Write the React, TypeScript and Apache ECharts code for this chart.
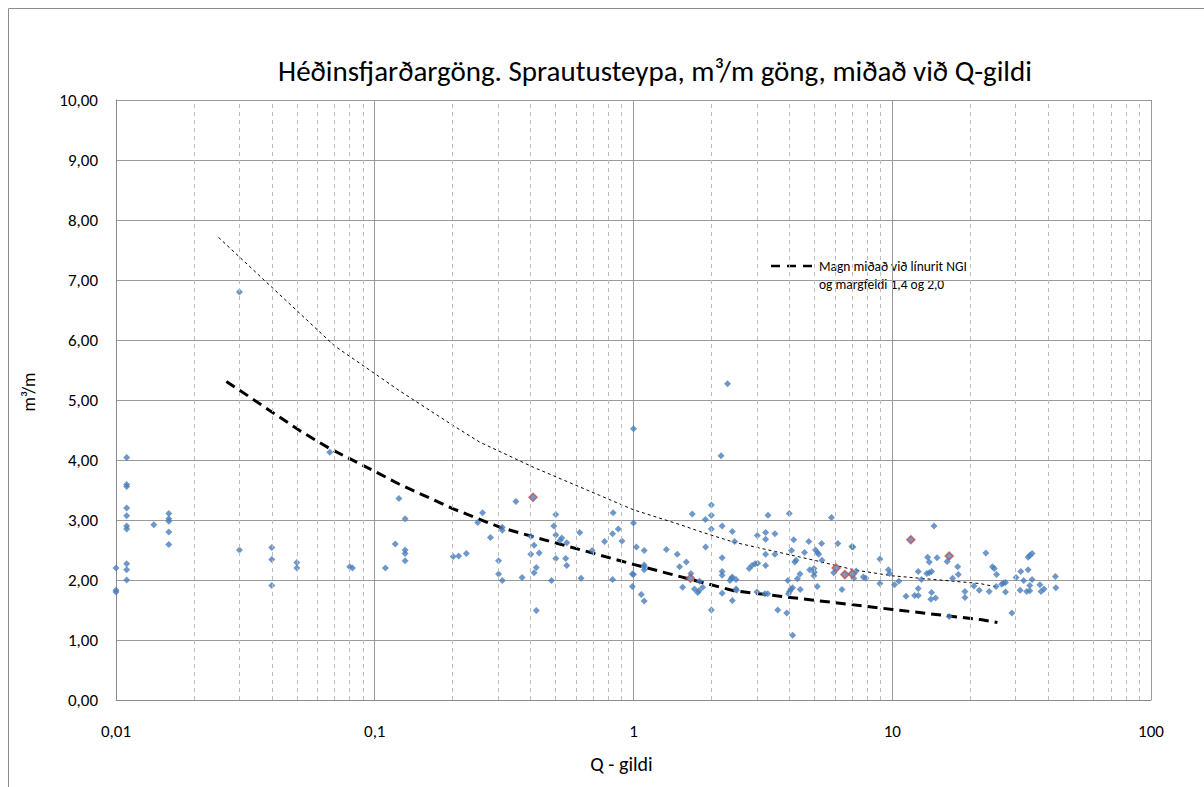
import React, { useEffect, useRef } from 'react';
import * as echarts from 'echarts';

const FONT = "Carlito, 'Liberation Sans Narrow', 'Open Sans', sans-serif";

const chartTitle = 'Héðinsfjarðargöng. Sprautusteypa, m³/m göng, miðað við Q-gildi';
const xAxisName = 'Q - gildi';
const yAxisName = 'm³/m';
const legendLines = ['Magn miðað við línurit NGI', 'og margfeldi 1,4 og 2,0'];

const xTickLabels = ['0,01', '0,1', '1', '10', '100'];
const minorGridQ = [
  0.02, 0.03, 0.04, 0.05, 0.06, 0.07, 0.08, 0.09,
  0.2, 0.3, 0.4, 0.5, 0.6, 0.7, 0.8, 0.9,
  2, 3, 4, 5, 6, 7, 8, 9,
  20, 30, 40, 50, 60, 70, 80, 90,
];

// Measured points [Q, m3/m]
const measured: [number, number][] = [
  [0.01, 2.2], [0.01, 1.8], [0.01, 1.83],
  [0.011, 4.04], [0.011, 3.59], [0.011, 3.56], [0.011, 3.2], [0.011, 3.07], [0.011, 2.9], [0.011, 2.85],
  [0.011, 2.27], [0.011, 2.17], [0.011, 2.0],
  [0.014, 2.92],
  [0.016, 3.11], [0.016, 3.02], [0.016, 2.98], [0.016, 2.8], [0.016, 2.59],
  [0.03, 2.5], [0.03, 6.8],
  [0.04, 2.54], [0.04, 2.34], [0.04, 1.91],
  [0.05, 2.29], [0.05, 2.2],
  [0.067, 4.13],
  [0.08, 2.22], [0.082, 2.2],
  [0.11, 2.2], [0.12, 2.6], [0.124, 3.36],
  [0.131, 3.02], [0.131, 2.5], [0.131, 2.44], [0.131, 2.32],
  [0.201, 2.39], [0.211, 2.4], [0.226, 2.44], [0.25, 2.96], [0.261, 3.12], [0.28, 2.71], [0.301, 2.32],
  [0.301, 2.1], [0.311, 1.99], [0.311, 2.88], [0.311, 2.83], [0.351, 3.31], [0.371, 2.04], [0.401, 2.73],
  [0.401, 2.43], [0.413, 2.58], [0.413, 2.12], [0.421, 2.21], [0.421, 1.49], [0.432, 2.45], [0.482, 1.99],
  [0.492, 2.9], [0.501, 3.09], [0.501, 2.75], [0.501, 2.36], [0.52, 2.66], [0.528, 2.7], [0.547, 2.36],
  [0.552, 2.62], [0.552, 2.24], [0.62, 2.79], [0.627, 2.03], [0.692, 2.49], [0.773, 2.64], [0.83, 2.01],
  [0.83, 2.77], [0.834, 3.12], [0.873, 2.85], [0.902, 2.65], [1.0, 4.52], [1.0, 2.95], [0.99, 2.1],
  [1.0, 2.09], [0.99, 1.89], [1.026, 2.55], [1.072, 1.76], [1.1, 2.49], [1.1, 2.25], [1.1, 2.22],
  [1.1, 2.17], [1.1, 1.65], [1.34, 2.51], [1.476, 2.43], [1.507, 2.22], [1.548, 1.88], [1.6, 2.3],
  [1.667, 2.11], [1.687, 3.1], [1.72, 1.85], [1.77, 1.79], [1.79, 1.82], [1.8, 1.98],
  [2.31, 5.27], [2.18, 4.07], [1.85, 1.88], [1.896, 3.01], [1.9, 2.55], [2.0, 3.25], [2.0, 3.08],
  [2.0, 2.85], [2.0, 1.5], [2.2, 2.9], [2.2, 2.37], [2.2, 2.14], [2.2, 2.08], [2.2, 1.78], [2.36, 1.99],
  [2.39, 2.03], [2.41, 2.05], [2.41, 2.81], [2.41, 1.66], [2.46, 2.64], [2.49, 2.01], [2.49, 1.85],
  [2.5, 1.83], [2.8, 2.19], [2.87, 2.24], [2.95, 2.27], [3.02, 2.28], [3.01, 2.74], [3.0, 1.8],
  [3.24, 2.79], [3.24, 2.68], [3.24, 2.43], [3.24, 2.24], [3.22, 1.77], [3.3, 1.77], [3.31, 3.08],
  [3.52, 2.77], [3.52, 2.43], [3.61, 1.5], [3.91, 1.45], [3.95, 1.99], [4.0, 3.11], [3.97, 1.77],
  [4.01, 1.81], [4.06, 1.85], [4.12, 1.87], [4.12, 1.08], [4.08, 2.49], [4.16, 2.67], [4.2, 2.3],
  [4.25, 2.33], [4.3, 2.02], [4.4, 2.1], [4.41, 1.84], [4.58, 2.46], [4.76, 2.64], [4.8, 2.17],
  [4.98, 2.19], [4.98, 2.07], [5.0, 2.13], [5.05, 2.5], [5.13, 2.46], [5.2, 2.43], [5.13, 1.89],
  [5.33, 2.61], [5.35, 2.33], [5.82, 3.04], [5.94, 2.12], [6.16, 2.61], [6.39, 1.84], [6.98, 2.56],
  [7.05, 2.55], [7.1, 2.03], [7.26, 2.15], [7.73, 2.05], [7.91, 2.03], [8.96, 2.35], [8.96, 1.94],
  [9.66, 2.17], [9.77, 2.11], [10.2, 1.92], [10.6, 1.98], [11.3, 1.73], [12.2, 1.74], [12.6, 1.74],
  [12.6, 2.14], [12.6, 1.86], [12.97, 2.01], [13.6, 2.11], [13.9, 2.12], [14.2, 2.14], [13.7, 2.38],
  [13.9, 2.3], [14.2, 1.79], [14.1, 1.68], [14.7, 1.7], [14.5, 2.9], [14.9, 2.37], [16.3, 2.31],
  [16.6, 1.39], [17.1, 2.03], [17.9, 2.22], [18.0, 2.09], [19.1, 1.81], [19.1, 1.71], [20.7, 1.9],
  [21.7, 1.83],
  [23.0, 2.45], [23.7, 1.81], [24.4, 2.22], [24.8, 2.19], [25.3, 2.09], [25.2, 1.89], [26.5, 1.93],
  [26.9, 1.95], [27.4, 1.96], [27.4, 1.8], [29.0, 1.45], [30.1, 2.04], [31.2, 1.83], [31.4, 2.14],
  [32.2, 1.99], [33.1, 1.81], [34.0, 1.82], [33.5, 2.17], [33.5, 2.38], [34.0, 2.41], [34.7, 2.44],
  [34.0, 1.91], [34.7, 2.01], [37.2, 1.92], [37.6, 1.81], [38.6, 1.85], [42.7, 2.06], [42.9, 1.87],
];

// Highlighted points (red outline)
const highlighted: [number, number][] = [
  [0.409, 3.38], [1.66, 2.03], [6.07, 2.2], [6.56, 2.09], [7.0, 2.1], [11.8, 2.67], [16.6, 2.4],
];

// NGI curve x1,4 (thick dashed)
const ngiLow: [number, number][] = [
  [0.0267, 5.31], [0.0513, 4.49], [0.067, 4.19], [0.1, 3.81], [0.124, 3.6], [0.2, 3.19],
  [0.304, 2.88], [0.41, 2.72], [0.68, 2.46], [1, 2.26], [1.6, 2.03], [2.44, 1.82], [4.03, 1.71],
  [10, 1.51], [21.9, 1.34], [25.5, 1.29],
];

// NGI curve x2,0 (thin dashed)
const ngiHigh: [number, number][] = [
  [0.0249, 7.71], [0.07, 5.9], [0.1, 5.44], [0.124, 5.16], [0.2, 4.58], [0.254, 4.3], [0.41, 3.88],
  [0.74, 3.41], [1, 3.17], [1.52, 2.92], [1.8, 2.81], [2.44, 2.63], [4.98, 2.33], [7.1, 2.17],
  [10, 2.07], [21.9, 1.94], [25.5, 1.88],
];

export default function App() {
  const ref = useRef<HTMLDivElement>(null);
  useEffect(() => {
    const chart = echarts.init(ref.current!, null, { renderer: 'svg' });
    chart.setOption({
      animation: false,
      backgroundColor: '#ffffff',
      grid: { left: 116, right: 53, top: 100, bottom: 87 },
      xAxis: {
        type: 'log',
        logBase: 10,
        min: 0.01,
        max: 100,
        name: xAxisName,
        nameLocation: 'middle',
        nameGap: 54,
        nameTextStyle: { fontFamily: FONT, fontSize: 20, color: '#000', padding: [0, 24, 0, 0] },
        axisLine: { show: true, lineStyle: { color: '#8c8c8c', width: 1 } },
        axisTick: { show: false },
        axisLabel: {
          margin: 23,
          fontFamily: FONT,
          fontSize: 17,
          color: '#000',
          formatter: (v: number) => xTickLabels[Math.round(Math.log10(v)) + 2] ?? '',
        },
        splitLine: { show: true, lineStyle: { color: '#9a9a9a', width: 1 } },
        minorSplitLine: { show: false },
      },
      yAxis: {
        type: 'value',
        min: 0,
        max: 10,
        interval: 1,
        name: yAxisName,
        nameLocation: 'middle',
        nameGap: 78,
        nameRotate: 90,
        nameTextStyle: { fontFamily: FONT, fontSize: 18, color: '#000', padding: [0, 0, 0, 16] },
        axisLine: { show: true, lineStyle: { color: '#8c8c8c', width: 1 } },
        axisTick: { show: false },
        axisLabel: {
          margin: 18,
          fontFamily: FONT,
          fontSize: 17,
          color: '#000',
          formatter: (v: number) => v.toFixed(2).replace('.', ','),
        },
        splitLine: { show: true, lineStyle: { color: '#9a9a9a', width: 1 } },
      },
      series: [
        {
          type: 'line',
          name: 'minor',
          data: [],
          silent: true,
          z: 1,
          markLine: {
            silent: true,
            symbol: ['none', 'none'],
            label: { show: false },
            lineStyle: { color: '#bdbdbd', width: 1, type: [4, 4] },
            data: minorGridQ.map((q) => ({ xAxis: q })),
          },
        },
        {
          type: 'line',
          name: 'NGI x2,0',
          data: ngiHigh,
          symbol: 'none',
          z: 3,
          lineStyle: { color: '#000', width: 1, type: [3, 3] },
        },
        {
          type: 'line',
          name: 'NGI x1,4',
          data: ngiLow,
          symbol: 'none',
          z: 3,
          lineStyle: { color: '#000', width: 3, type: [10, 6] },
        },
        {
          type: 'scatter',
          name: 'Mælt',
          data: measured,
          symbol: 'diamond',
          symbolSize: 7,
          z: 4,
          itemStyle: { color: '#4a7ebb' },
        },
        {
          type: 'scatter',
          name: 'Merkt',
          data: highlighted,
          symbol: 'diamond',
          symbolSize: 8,
          z: 5,
          itemStyle: { color: '#4f81bd', borderColor: '#c0504d', borderWidth: 1.5 },
        },
      ],
      graphic: [
        {
          type: 'rect',
          silent: true,
          z: -10,
          shape: { x: 8.5, y: 8.5, width: 1220, height: 800 },
          style: { fill: 'none', stroke: '#8c8c8c', lineWidth: 1 },
        },
        {
          type: 'text',
          x: 655,
          y: 71,
          style: {
            text: chartTitle,
            fontFamily: FONT,
            fontSize: 29,
            fill: '#000',
            align: 'center',
            verticalAlign: 'middle',
          },
        },
        {
          type: 'group',
          z: 20,
          children: [
            {
              type: 'rect',
              shape: { x: 760, y: 248, width: 228, height: 74 },
              style: { fill: '#ffffff', stroke: 'none' },
            },
            {
              type: 'line',
              shape: { x1: 771, y1: 266, x2: 813, y2: 266 },
              style: { stroke: '#000', lineWidth: 2.5, lineDash: [9, 7] },
            },
            {
              type: 'text',
              x: 819,
              y: 266,
              style: { text: legendLines[0], fontFamily: FONT, fontSize: 13.5, fill: '#000', verticalAlign: 'middle' },
            },
            {
              type: 'text',
              x: 819,
              y: 284,
              style: { text: legendLines[1], fontFamily: FONT, fontSize: 13.5, fill: '#000', verticalAlign: 'middle' },
            },
          ],
        },
      ],
    });
    return () => chart.dispose();
  }, []);
  return (
    <div
      ref={ref}
      style={{ position: 'absolute', left: 0, top: 0, width: 1204, height: 787, background: '#fff' }}
    />
  );
}
